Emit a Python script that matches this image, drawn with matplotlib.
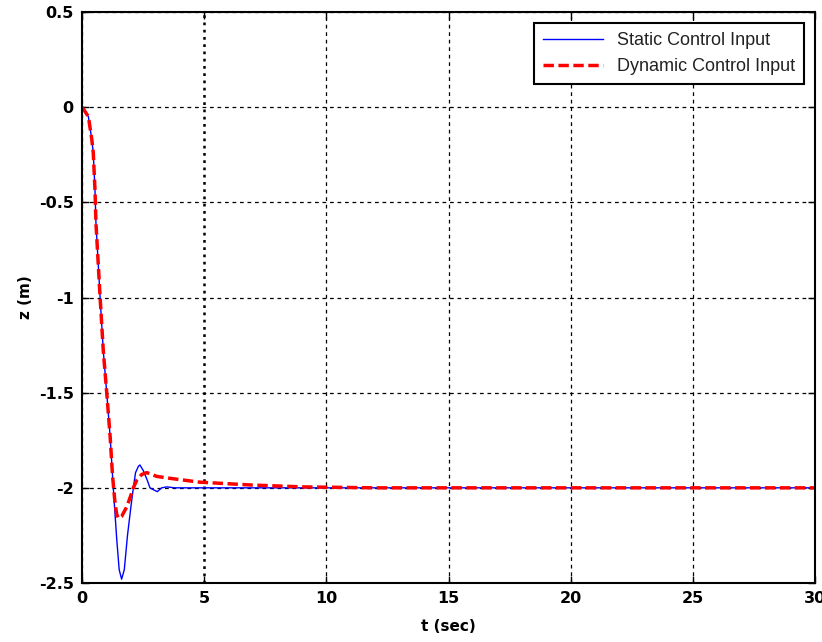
import matplotlib
matplotlib.use("Agg")
import matplotlib.pyplot as plt

# values
t_static = [0, 0.11, 0.26, 0.40, 0.46, 0.53, 0.57, 0.74, 0.87, 1.01, 1.15, 1.25, 1.32,
            1.42, 1.52, 1.62, 1.73, 1.86, 2.00, 2.10, 2.19, 2.31, 2.37, 2.51, 2.67,
            2.78, 2.92, 3.08, 3.26, 3.47, 3.8, 5, 10, 20, 30]
z_static = [0, -0.02, -0.05, -0.17, -0.24, -0.435, -0.61, -1.0, -1.28, -1.50, -1.73, -1.94, -2.08,
            -2.27, -2.43, -2.48, -2.43, -2.25, -2.10, -2.0, -1.92, -1.886, -1.88, -1.91, -1.96,
            -2.0, -2.01, -2.02, -2.0, -1.995, -2.0, -2.0, -2.0, -2.0, -2.0]

t_dynamic = [0, 0.11, 0.26, 0.40, 0.46, 0.53, 0.57, 0.74, 0.87, 1.01, 1.15, 1.25, 1.35,
             1.42, 1.49, 1.62, 1.83, 1.97, 2.10, 2.24, 2.44, 2.65, 3.06, 3.6, 4.8,
             6.9, 9, 12, 20, 30]
z_dynamic = [0, -0.02, -0.05, -0.17, -0.24, -0.435, -0.61, -1.0, -1.28, -1.50, -1.73, -1.94, -2.08,
             -2.14, -2.16, -2.15, -2.10, -2.05, -2.0, -1.96, -1.93, -1.92, -1.94, -1.95, -1.97,
             -1.985, -1.995, -2.0, -2.0, -2.0]

x_ticks = [0, 5, 10, 15, 20, 25, 30]
y_ticks = [0.5, 0, -0.5, -1, -1.5, -2, -2.5]
y_tick_labels = ["0.5", "0", "-0.5", "-1", "-1.5", "-2", "-2.5"]

plt.rcParams['font.family'] = ['Liberation Sans', 'DejaVu Sans']

fig = plt.figure(figsize=(8.22, 6.42), dpi=100)
ax = fig.add_axes([0.0998, 0.0919, 0.8917, 0.8894])

ax.plot(t_static, z_static, color="#0000ff", lw=1.0, label="Static Control Input")
ax.plot(t_dynamic, z_dynamic, color="#ff0000", lw=2.5, ls=(0, (3, 1.3)), label="Dynamic Control Input")

ax.set_xlim(0, 30)
ax.set_ylim(-2.5, 0.5)
ax.set_xticks(x_ticks)
ax.set_xticklabels([str(v) for v in x_ticks])
ax.set_yticks(y_ticks)
ax.set_yticklabels(y_tick_labels)
ax.tick_params(direction="in", top=True, right=True, length=5, width=1, pad=6)
for lab in ax.get_xticklabels() + ax.get_yticklabels():
    lab.set_fontweight("bold")
    lab.set_family("DejaVu Sans")
    lab.set_fontsize(11.5)

ax.grid(True, color="black", ls=(0, (3, 3)), lw=0.9)
# the t = 5 grid line is drawn heavier (dotted) in the original
g5 = ax.get_xgridlines()[1]
g5.set_linewidth(1.8)
g5.set_linestyle((0, (1.1, 1.8)))
for s in ax.spines.values():
    s.set_linewidth(1.5)

ax.set_xlabel("t (sec)", fontsize=11, fontweight="bold", family="DejaVu Sans", labelpad=9)
ax.set_ylabel("z (m)", fontsize=11, fontweight="bold", family="DejaVu Sans", labelpad=4)

leg = ax.legend(loc="upper right", fontsize=13, fancybox=False, framealpha=1,
                edgecolor="black", borderaxespad=0.6, handlelength=3.3,
                labelspacing=0.5, borderpad=0.5)
leg.get_frame().set_linewidth(1.5)
for txt in leg.get_texts():
    txt.set_color("#222222")

fig.savefig("out.png", dpi=100)
